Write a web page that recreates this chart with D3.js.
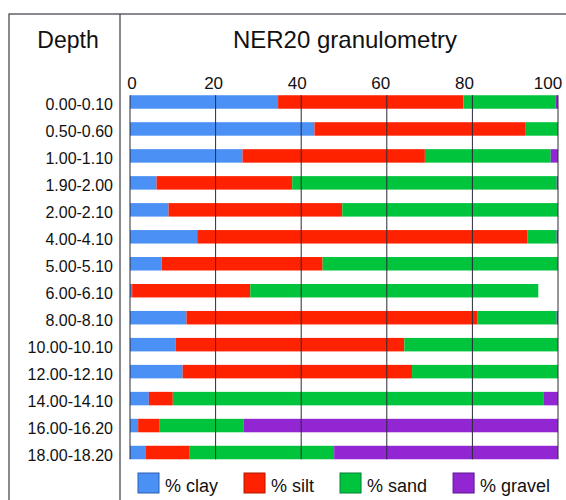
<!DOCTYPE html>
<html>
<head>
<meta charset="utf-8">
<script src="https://cdn.jsdelivr.net/npm/d3@7"></script>
<style>
  html, body { margin: 0; padding: 0; background: #fff; }
  svg { display: block; }
  text { font-family: "Liberation Sans", Arial, sans-serif; fill: #111; }
</style>
</head>
<body>
<svg id="chart" width="566" height="500"></svg>
<script>
const depths = ["0.00-0.10","0.50-0.60","1.00-1.10","1.90-2.00","2.00-2.10","4.00-4.10","5.00-5.10","6.00-6.10","8.00-8.10","10.00-10.10","12.00-12.10","14.00-14.10","16.00-16.20","18.00-18.20"];
const clay   = [34.6, 43.1, 26.3,  6.2,  9.0, 15.7,  7.4,  0.5, 13.2, 10.7, 12.3,  4.4,  1.9,  3.6];
const silt   = [43.3, 49.2, 42.6, 31.7, 40.6, 77.1, 37.6, 27.6, 67.9, 53.4, 53.6,  5.6,  4.9, 10.2];
const sand   = [21.6,  7.7, 29.4, 61.8, 50.4,  6.9, 55.0, 67.3, 18.6, 35.9, 34.1, 86.7, 19.8, 33.9];
const gravel = [ 0.5,  0.0,  1.7,  0.3,  0.0,  0.3,  0.0,  0.0,  0.3,  0.0,  0.0,  3.3, 73.4, 52.3];
const seriesKeys   = ["clay","silt","sand","gravel"];
const seriesLabels = ["% clay","% silt","% sand","% gravel"];
const seriesColors = ["#4a90f5","#ff2200","#00c43c","#9226d2"];
const strokeColors = ["#2a5fb0","#b01800","#00803a","#5a1490"];
const tickValues = [0, 20, 40, 60, 80, 100];
const titleText = "NER20 granulometry";
const depthHeader = "Depth";

const rows = depths.map((d, i) => ({depth: d, clay: clay[i], silt: silt[i], sand: sand[i], gravel: gravel[i]}));

const svg = d3.select("#chart");

// frame
svg.append("rect").attr("x", 9).attr("y", 14).attr("width", 700).attr("height", 700)
  .attr("fill", "none").attr("stroke", "#4a4a55").attr("stroke-width", 1.3);
svg.append("line").attr("x1", 120).attr("x2", 120).attr("y1", 14).attr("y2", 500)
  .attr("stroke", "#4a4a55").attr("stroke-width", 1.3);

const x = d3.scaleLinear().domain([0, 100]).range([130, 558]);
const y = d3.scaleBand().domain(depths).range([88.5, 466]).paddingInner(0.5).paddingOuter(0.25);

// headers
svg.append("text").attr("x", 68).attr("y", 48).attr("text-anchor", "middle")
  .attr("font-size", 23).text(depthHeader);
svg.append("text").attr("x", (x(0) + x(100)) / 2 + 1).attr("y", 48).attr("text-anchor", "middle")
  .attr("font-size", 24).text(titleText);

// stacked bars
const stack = d3.stack().keys(seriesKeys)(rows);
svg.append("g").selectAll("g").data(stack).join("g")
  .attr("fill", (d, i) => seriesColors[i])
  .selectAll("rect").data(d => d).join("rect")
  .attr("x", d => x(d[0]))
  .attr("y", d => y(d.data.depth))
  .attr("width", d => Math.max(0, x(d[1]) - x(d[0])))
  .attr("height", y.bandwidth());

// gridlines (over bars)
const gTop = y(depths[0]);
const gBot = y(depths[depths.length - 1]) + y.bandwidth();
svg.append("g").selectAll("line").data(tickValues).join("line")
  .attr("x1", d => x(d)).attr("x2", d => x(d))
  .attr("y1", gTop).attr("y2", gBot)
  .attr("stroke", "#2a2a35").attr("stroke-width", 1);

// tick labels
svg.append("g").selectAll("text").data(tickValues).join("text")
  .attr("x", d => x(d) - d * 0.1 + (d === 0 ? 2 : 0))
  .attr("y", 89)
  .attr("text-anchor", "middle")
  .attr("font-size", 17)
  .text(d => d);

// depth labels
svg.append("g").selectAll("text").data(depths).join("text")
  .attr("x", 113)
  .attr("y", d => y(d) + y.bandwidth() / 2 + 8.3)
  .attr("text-anchor", "end")
  .attr("font-size", 16)
  .text(d => d);

// legend
const leg = svg.append("g");
let lx = 138;
seriesLabels.forEach((lab, i) => {
  leg.append("rect").attr("x", lx).attr("y", 473).attr("width", 21).attr("height", 20)
    .attr("fill", seriesColors[i]).attr("stroke", strokeColors[i]).attr("stroke-width", 1);
  const t = leg.append("text").attr("x", lx + 27).attr("y", 492).attr("font-size", 18).text(lab);
  lx += 27 + t.node().getComputedTextLength() + 26;
});
</script>
</body>
</html>
